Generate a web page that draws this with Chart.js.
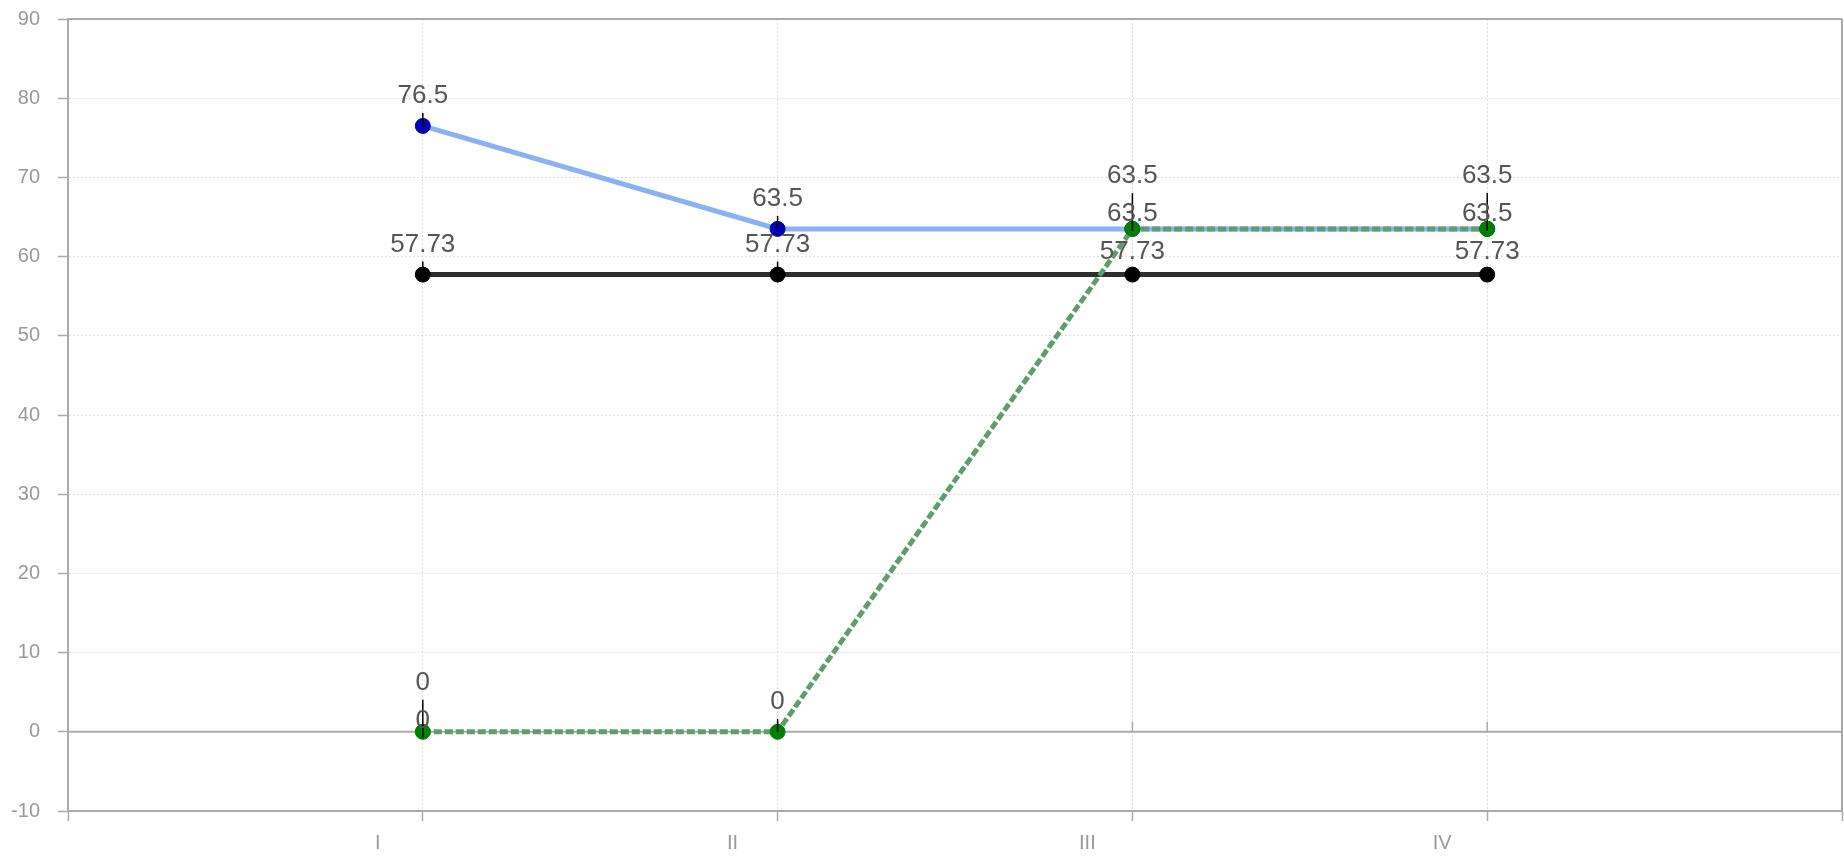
<!DOCTYPE html>
<html>
<head>
<meta charset="utf-8">
<script src="https://cdn.jsdelivr.net/npm/chart.js@4.4.1/dist/chart.umd.min.js"></script>
<style>
  html, body { margin: 0; padding: 0; background: #ffffff; overflow: hidden; }
  #wrap { width: 1844px; height: 857px; }
  canvas { display: block; }
</style>
</head>
<body>
<div id="wrap"><canvas id="chart" width="1844" height="857"></canvas></div>
<script>
// Categories along the horizontal axis
const categories = ['I', 'II', 'III', 'IV'];

// Series values, one per category
const seriesBlue  = [76.5, 63.5, 63.5, 63.5];
const seriesBlack = [57.73, 57.73, 57.73, 57.73];
const seriesGreen = [0, 0, 63.5, 63.5];
const seriesExtra = [0];

// Value axis ticks
const yTickValues = [-10, 0, 10, 20, 30, 40, 50, 60, 70, 80, 90];

const toPoints = arr => arr.map((v, i) => ({ x: i + 1, y: v }));

const LABEL_FONT = '26px "Liberation Sans", Arial, sans-serif';
const TICK_FONT = { family: '"Liberation Sans", Arial, sans-serif', size: 20 };

// Frame: top/right border, zero line and its small category ticks
const framePlugin = {
  id: 'frame',
  beforeDatasetsDraw(chart) {
    const { ctx, chartArea: a, scales: { x, y } } = chart;
    const y0 = y.getPixelForValue(0);
    ctx.save();
    ctx.strokeStyle = '#aaaaaa';
    ctx.lineWidth = 2;
    ctx.beginPath();
    ctx.moveTo(a.left, a.top); ctx.lineTo(a.right, a.top);
    ctx.moveTo(a.right, a.top); ctx.lineTo(a.right, a.bottom);
    ctx.moveTo(a.left, y0); ctx.lineTo(a.right, y0);
    ctx.stroke();
    ctx.lineWidth = 1.5;
    ctx.beginPath();
    categories.forEach((c, i) => {
      const px = x.getPixelForValue(i + 1);
      ctx.moveTo(px, y0); ctx.lineTo(px, y0 - 10);
    });
    ctx.stroke();
    ctx.restore();
  }
};

// Value labels above points, spread apart where they collide, with leader lines
const valueLabelPlugin = {
  id: 'valueLabels',
  afterDatasetsDraw(chart) {
    const { ctx } = chart;
    const H = 38;
    const columns = {};
    chart.data.datasets.forEach((ds, d) => {
      const meta = chart.getDatasetMeta(d);
      ds.data.forEach((p, j) => {
        const el = meta.data[j];
        if (!el) return;
        (columns[p.x] = columns[p.x] || []).push({
          text: String(p.y), px: el.x, py: el.y, c: el.y - 32, rank: ds.labelRank
        });
      });
    });
    ctx.save();
    Object.values(columns).forEach(items => {
      items.sort((a, b) => (a.c - b.c) || (a.rank - b.rank));
      for (let it = 0; it < 80; it++) {
        for (let k = 0; k < items.length - 1; k++) {
          const a = items[k], b = items[k + 1];
          const d = b.c - a.c;
          if (d < H) {
            const push = (H - d) / 2;
            a.c -= push; b.c += push;
          }
        }
      }
      ctx.strokeStyle = '#000000';
      ctx.lineWidth = 1.5;
      items.forEach(l => {
        const bottom = l.c + 19;
        ctx.beginPath();
        ctx.moveTo(l.px, l.py);
        ctx.lineTo(l.px, bottom);
        ctx.stroke();
      });
      ctx.fillStyle = '#555555';
      ctx.font = LABEL_FONT;
      ctx.textAlign = 'center';
      ctx.textBaseline = 'alphabetic';
      items.forEach(l => ctx.fillText(l.text, l.px, l.c + 9));
    });
    ctx.restore();
  }
};

const zeroPad = s => { s.paddingLeft = 0; s.paddingRight = 0; s.paddingTop = 0; s.paddingBottom = 0; };

new Chart(document.getElementById('chart'), {
  type: 'line',
  data: {
    datasets: [
      {
        label: 'Green', data: toPoints(seriesGreen), order: 0, labelRank: 1,
        borderColor: '#5f9d6d', borderWidth: 5, borderDash: [8, 3],
        pointRadius: 7.5, pointBackgroundColor: '#008000', pointBorderColor: '#008000', pointBorderWidth: 1
      },
      {
        label: 'Black', data: toPoints(seriesBlack), order: 1, labelRank: 2,
        borderColor: '#2e2e2e', borderWidth: 5,
        pointRadius: 7.5, pointBackgroundColor: '#000000', pointBorderColor: '#000000', pointBorderWidth: 1
      },
      {
        label: 'Blue', data: toPoints(seriesBlue), order: 2, labelRank: 0,
        borderColor: '#88b2f1', borderWidth: 5,
        pointRadius: 7.5, pointBackgroundColor: '#0000b0', pointBorderColor: '#0000b0', pointBorderWidth: 1
      },
      {
        label: 'Extra', data: toPoints(seriesExtra), order: 3, labelRank: 3,
        borderColor: '#008000', borderWidth: 0, showLine: false,
        pointRadius: 7.5, pointBackgroundColor: '#008000', pointBorderColor: '#008000'
      }
    ]
  },
  options: {
    responsive: false,
    animation: false,
    devicePixelRatio: 1,
    layout: { autoPadding: false, padding: { top: 19, right: 2, left: 0, bottom: 0 } },
    plugins: { legend: { display: false }, tooltip: { enabled: false } },
    scales: {
      x: {
        type: 'linear', min: 0, max: categories.length + 1,
        afterBuildTicks: s => { s.ticks = Array.from({ length: categories.length + 2 }, (_, i) => ({ value: i })); },
        afterFit: s => { s.height = 46; zeroPad(s); },
        ticks: {
          callback: v => categories[v - 1] || '',
          color: '#999999', font: TICK_FONT, padding: 10, labelOffset: -45,
          maxRotation: 0, autoSkip: false
        },
        grid: {
          color: c => (c.tick && (c.tick.value === 0 || c.tick.value === categories.length + 1)) ? 'rgba(0,0,0,0)' : '#dddddd',
          lineWidth: 1, tickLength: 10, tickColor: '#aaaaaa', tickWidth: 1.5
        },
        border: { color: '#aaaaaa', width: 2, dash: [2, 2] }
      },
      y: {
        type: 'linear', min: yTickValues[0], max: yTickValues[yTickValues.length - 1],
        afterBuildTicks: s => { s.ticks = yTickValues.map(v => ({ value: v })); },
        afterFit: s => { s.width = 68; zeroPad(s); },
        ticks: { color: '#999999', font: TICK_FONT, padding: 18 },
        grid: {
          color: c => (c.tick && [yTickValues[0], 0, yTickValues[yTickValues.length - 1]].includes(c.tick.value)) ? 'rgba(0,0,0,0)' : '#dddddd',
          lineWidth: 1, tickLength: 10, tickColor: '#aaaaaa', tickWidth: 1.5
        },
        border: { color: '#aaaaaa', width: 2, dash: [2, 2] }
      }
    }
  },
  plugins: [framePlugin, valueLabelPlugin]
});
</script>
</body>
</html>
